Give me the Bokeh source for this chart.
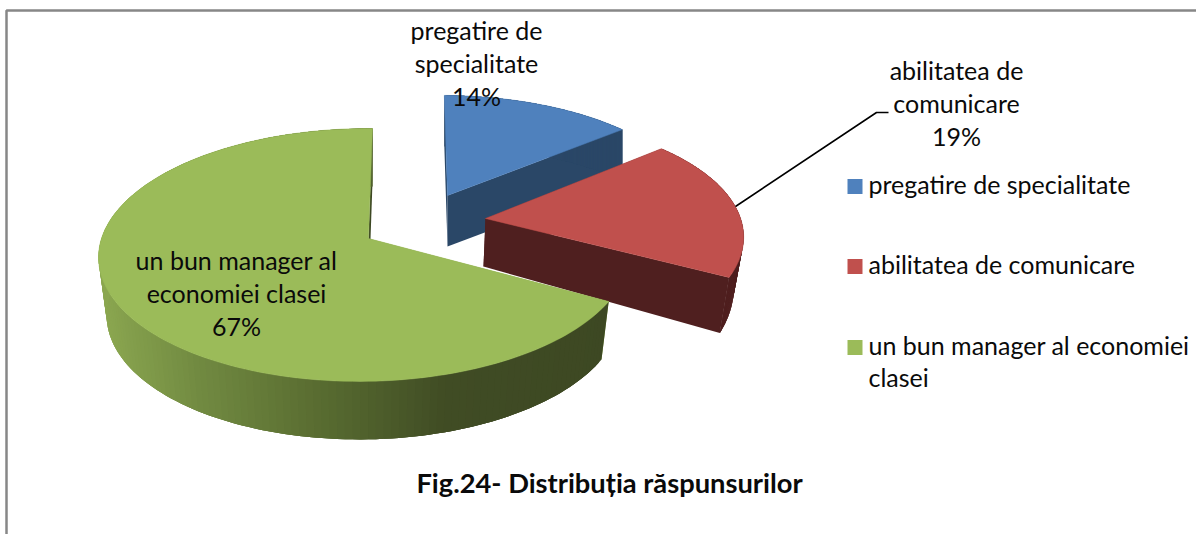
import numpy as np
from bokeh.plotting import figure
from bokeh.embed import file_html
from bokeh.resources import INLINE
from bokeh.core.properties import value

# ---- data
categories = ["pregatire de specialitate", "abilitatea de comunicare", "un bun manager al economiei clasei"]
shares = [14, 19, 67]
label_lines = [["pregatire de", "specialitate", "14%"],
               ["abilitatea de", "comunicare", "19%"],
               ["un bun manager al", "economiei clasei", "67%"]]
legend_lines = [["pregatire de specialitate"], ["abilitatea de comunicare"], ["un bun manager al economiei", "clasei"]]
title_text = "Fig.24- Distribuția răspunsurilor"
top_colors = ["#4F81BD", "#C0504D", "#9BBB59"]
side_colors = ["#2A4767", "#4F1F1F", "#3D4823"]

# ---- layout (pixels of the picture)
W, H = 1196, 534
FONT = "Lato"
TXT = "25px"
R, A, K, M = 263.0, 124.3, 0.13, 0.015
slice_style = [
    dict(ax=447, ay=195, sx=.955, sy=.91, bx=0, D=51, bsx=1.0, bsy=1.0, rot=0, shear=-.03, rdy=0),
    dict(ax=485, ay=218, sx=.99, sy=.97, bx=-2, D=48, bsx=.97, bsy=1.14, rot=-.06, shear=.036, rdy=5),
    dict(ax=368, ay=238, sx=1.0, sy=1.0, bx=0, D=58, bsx=.97, bsy=1.0, rot=0, shear=.036, rdy=0),
]
label_pos = [(476, 29), (956, 69), (236, 259)]
LINE_H = 33


def rim(theta, st):
    theta = theta + st["rot"]
    u, v = np.sin(theta), np.cos(theta)
    w = 1 + K * v + M * u
    dx, dy = R * u / w, -A * v / w
    dx = dx - st["shear"] * dy
    tx, ty = st["ax"] + dx * st["sx"], st["ay"] + dy * st["sy"] + st["rdy"]
    bx = st["ax"] + st["bx"] + dx * st["sx"] * st["bsx"]
    by = st["ay"] + st["D"] + dy * st["sy"] * st["bsy"] + st["rdy"]
    return tx, ty, bx, by


def green_shade(x):
    stops_x = [100, 200, 330, 450, 620]
    stops = np.array([[139, 167, 80], [113, 138, 65], [87, 106, 48], [64, 76, 36], [61, 72, 35]], float)
    c = [np.interp(x, stops_x, stops[:, i]) for i in range(3)]
    return "#%02x%02x%02x" % tuple(int(round(a)) for a in c)


p = figure(width=W, height=H, x_range=(0, W), y_range=(H, 0),
           toolbar_location=None, output_backend="svg", min_border=0, outline_line_color=None,
           x_axis_location=None, y_axis_location=None)
p.grid.visible = False
p.background_fill_color = "white"
p.border_fill_color = "white"

# frame
p.line([6, 6, W], [H, 10, 10], line_color="#878787", line_width=2.5)

# slices
fracs = np.cumsum([0] + shares) / sum(shares) * 2 * np.pi
for i in range(len(shares)):
    st = slice_style[i]
    t0, t1 = fracs[i], fracs[i + 1]
    th = np.linspace(t0, t1, 161)
    tx, ty, bx, by = rim(th, st)
    ax, ay = st["ax"], st["ay"]
    abx, aby = ax + st["bx"], ay + st["D"]
    # radial side faces
    for j, c in ((0, "#84A245" if i == 2 else side_colors[i]), (-1, side_colors[i])):
        p.patch([ax, tx[j], bx[j], abx], [ay, ty[j], by[j], aby], fill_color=c, line_color=None)
    # rim side: each band overlaps the next one, so no seams show
    for k in range(len(th) - 1):
        e = min(k + 3, len(th) - 1)
        xs = [*tx[k:e + 1], *bx[k:e + 1][::-1]]
        ys = [*ty[k:e + 1], *by[k:e + 1][::-1]]
        c = green_shade(tx[k]) if i == 2 else side_colors[i]
        p.patch(xs, ys, fill_color=c, line_color=None)
    # top face
    p.patch([ax, *tx], [ay, *ty], fill_color=top_colors[i], line_color=top_colors[i], line_width=.5)

# leader line of the red label
p.line([735, 876, 888], [206, 112, 112], line_color="black", line_width=1.6)


def txt(x, y, s, align="center", size=TXT, style="normal"):
    p.text([x], [y], text=[s], text_font=value(FONT), text_font_size=size, text_color="#0a0a0a",
           text_align=align, text_baseline="middle", text_font_style=style)


# data labels
for lines, (x, y) in zip(label_lines, label_pos):
    for n, s in enumerate(lines):
        txt(x, y + n * LINE_H, s)

# legend
legend_y = [186, 266, 347]
for i, lines in enumerate(legend_lines):
    p.rect([854.5], [legend_y[i]], width=15, height=15, fill_color=top_colors[i], line_color=None)
    for n, s in enumerate(lines):
        txt(868, legend_y[i] - 2.5 + n * 32, s, align="left")

# title
txt(609, 482, title_text, size="27.3px", style="bold")

open("out.html", "w").write(file_html(p, INLINE))
